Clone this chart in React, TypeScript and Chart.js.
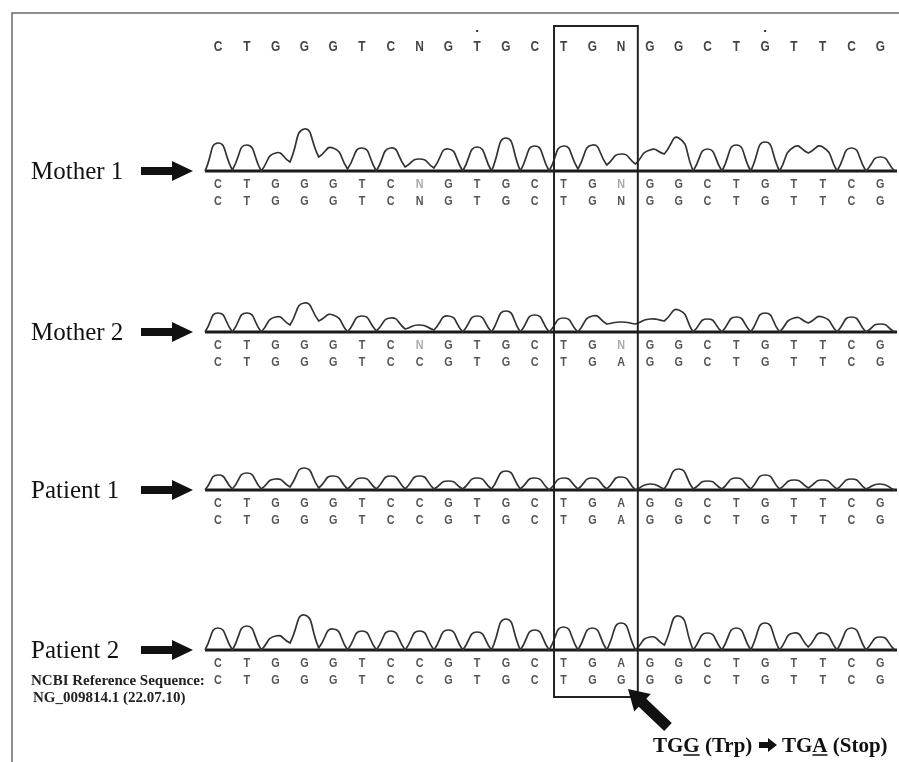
import { useEffect, useRef } from "react";
import { Chart, registerables } from "chart.js";

Chart.register(...registerables);

// ---------------- DATA ----------------
const TOP_SEQUENCE = "CTGGGTCNGTGCTGNGGCTGTTCG".split("");

const MOTHER1_CALL = "CTGGGTCNGTGCTGNGGCTGTTCG".split("");
const MOTHER1_REF = "CTGGGTCNGTGCTGNGGCTGTTCG".split("");
const MOTHER2_CALL = "CTGGGTCNGTGCTGNGGCTGTTCG".split("");
const MOTHER2_REF = "CTGGGTCCGTGCTGAGGCTGTTCG".split("");
const PATIENT1_CALL = "CTGGGTCCGTGCTGAGGCTGTTCG".split("");
const PATIENT1_REF = "CTGGGTCCGTGCTGAGGCTGTTCG".split("");
const PATIENT2_CALL = "CTGGGTCCGTGCTGAGGCTGTTCG".split("");
const NCBI_REF = "CTGGGTCCGTGCTGGGGCTGTTCG".split("");

// peak heights at each base, and trough heights before/between/after bases
const MOTHER1_PEAKS = [28, 26, 18, 42, 23, 23, 23, 12, 22, 24, 33, 25, 25, 26, 17, 21, 33, 22, 26, 29, 24, 24, 23, 14];
const MOTHER1_VALLEYS = [0, 1, 0, 9, 14, 2, 0, 4, 3, 0, 0, 0, 0, 2, 6, 7, 17, 0, 0, 0, 0, 18, 0, 0, 0];
const MOTHER2_PEAKS = [19, 19, 15, 29, 17, 16, 14, 7, 16, 16, 21, 17, 14, 16, 10, 13, 22, 13, 15, 19, 14, 15, 15, 8];
const MOTHER2_VALLEYS = [0, 0, 0, 7, 11, 0, 1, 3, 2, 0, 0, 0, 0, 0, 8, 8, 11, 0, 0, 0, 0, 9, 0, 0, 0];
const PATIENT1_PEAKS = [15, 17, 11, 22, 14, 12, 14, 14, 9, 12, 19, 12, 12, 12, 13, 6, 21, 9, 12, 15, 10, 10, 11, 6];
const PATIENT1_VALLEYS = [0, 1, 1, 3, 2, 1, 1, 1, 1, 1, 1, 1, 0, 1, 1, 0, 1, 1, 1, 1, 1, 2, 1, 1, 0];
const PATIENT2_PEAKS = [22, 24, 14, 35, 21, 19, 19, 19, 20, 18, 31, 20, 23, 22, 27, 13, 34, 17, 22, 27, 17, 17, 22, 13];
const PATIENT2_VALLEYS = [0, 0, 0, 7, 2, 0, 0, 0, 0, 0, 0, 0, 0, 0, 0, 0, 5, 0, 0, 0, 0, 3, 0, 0, 0];

const ROW_LABELS = ["Mother 1", "Mother 2", "Patient 1", "Patient 2"];
const NCBI_LABEL = ["NCBI Reference Sequence:", "NG_009814.1 (22.07.10)"];
const MUTATION_LEFT = "TGG (Trp)";
const MUTATION_RIGHT = "TGA (Stop)";

// ---------------- LAYOUT ----------------
const W = 899;
const H = 762;
const X_MIN = -7.57; // base-index at left canvas edge
const X_MAX = 23.65; // base-index at right canvas edge
const TRACE_START = -0.45;
const TRACE_END = 23.58;
const ROW_BASELINE_PX = [171, 332, 490, 650];
const BOX_FROM = 11.67;
const BOX_TO = 14.58;
const BOX_TOP = 26;
const BOX_BOTTOM = 697;
const TOP_ROW_Y = 46;
const CALL_DY = 12.5;
const REF_DY = 29.5;
const DOT_BASES = [9, 19];

const ROWS = [
  { peaks: MOTHER1_PEAKS, valleys: MOTHER1_VALLEYS, call: MOTHER1_CALL, ref: MOTHER1_REF },
  { peaks: MOTHER2_PEAKS, valleys: MOTHER2_VALLEYS, call: MOTHER2_CALL, ref: MOTHER2_REF },
  { peaks: PATIENT1_PEAKS, valleys: PATIENT1_VALLEYS, call: PATIENT1_CALL, ref: PATIENT1_REF },
  { peaks: PATIENT2_PEAKS, valleys: PATIENT2_VALLEYS, call: PATIENT2_CALL, ref: NCBI_REF },
];

function tracePoints(peaks: number[], valleys: number[]) {
  const pts: { x: number; y: number }[] = [];
  const n = peaks.length;
  for (let k = 0; k <= n; k++) {
    const vx = Math.min(Math.max(k - 0.5, TRACE_START), TRACE_END);
    if (k > 0) pts.push({ x: vx, y: valleys[k] });
    if (k < n) {
      pts.push({ x: vx, y: valleys[k] });
      pts.push({ x: k, y: peaks[k] });
    }
  }
  return pts;
}

function letter(ctx: CanvasRenderingContext2D, ch: string, x: number, yc: number, size: number, bold: boolean, color: string, sx: number) {
  ctx.save();
  ctx.translate(x, yc + size * 0.716 / 2);
  ctx.scale(sx, 1);
  ctx.font = `${bold ? "bold " : ""}${size}px 'Liberation Sans', Arial, sans-serif`;
  ctx.fillStyle = color;
  ctx.textAlign = "center";
  ctx.textBaseline = "alphabetic";
  ctx.fillText(ch, 0, 0);
  ctx.restore();
}

function blockArrow(ctx: CanvasRenderingContext2D, x0: number, x1: number, yc: number, shaftH: number, headH: number, headL: number) {
  ctx.beginPath();
  ctx.moveTo(x0, yc - shaftH);
  ctx.lineTo(x1 - headL, yc - shaftH);
  ctx.lineTo(x1 - headL, yc - headH);
  ctx.lineTo(x1, yc);
  ctx.lineTo(x1 - headL, yc + headH);
  ctx.lineTo(x1 - headL, yc + shaftH);
  ctx.lineTo(x0, yc + shaftH);
  ctx.closePath();
  ctx.fill();
}

const annotPlugin = {
  id: "annot",
  afterDraw(chart: any) {
    const ctx: CanvasRenderingContext2D = chart.ctx;
    const xs = chart.scales.x;
    const px = (v: number) => xs.getPixelForValue(v);
    ctx.save();

    // frame
    ctx.strokeStyle = "#6a6a6a";
    ctx.lineWidth = 1.5;
    ctx.beginPath();
    ctx.moveTo(12, H);
    ctx.lineTo(12, 13);
    ctx.lineTo(W, 13);
    ctx.stroke();

    // top sequence
    TOP_SEQUENCE.forEach((ch, i) => letter(ctx, ch, px(i), TOP_ROW_Y, 14, true, "#444", 0.85));
    ctx.fillStyle = "#333";
    DOT_BASES.forEach((i) => {
      ctx.fillRect(px(i) - 1, TOP_ROW_Y - 16, 2, 2);
    });

    // rows
    ROWS.forEach((row, r) => {
      const base = chart.scales["y" + r].getPixelForValue(0);
      row.call.forEach((ch, i) => letter(ctx, ch, px(i), base + CALL_DY, 12, true, ch === "N" ? "#aaa" : "#555", 0.9));
      row.ref.forEach((ch, i) => letter(ctx, ch, px(i), base + REF_DY, 12, true, "#555", 0.9));

      ctx.fillStyle = "#111";
      ctx.font = "25px 'Liberation Serif', 'Times New Roman', serif";
      ctx.textAlign = "left";
      ctx.textBaseline = "alphabetic";
      ctx.fillText(ROW_LABELS[r], 31, base + 8);
      ctx.fillStyle = "#111";
      blockArrow(ctx, 141, 193, base, 4, 10, 21);
    });

    // NCBI label
    const b3 = chart.scales.y3.getPixelForValue(0);
    ctx.fillStyle = "#222";
    ctx.font = "bold 15px 'Liberation Serif', 'Times New Roman', serif";
    ctx.textAlign = "left";
    ctx.fillText(NCBI_LABEL[0], 31, b3 + REF_DY + 5);
    ctx.fillText(NCBI_LABEL[1], 33, b3 + REF_DY + 22);

    // highlight box
    ctx.strokeStyle = "#222";
    ctx.lineWidth = 2;
    ctx.strokeRect(px(BOX_FROM), BOX_TOP, px(BOX_TO) - px(BOX_FROM), BOX_BOTTOM - BOX_TOP);

    // diagonal arrow pointing at box corner
    {
      const tip = { x: 628, y: 689 };
      const tail = { x: 668, y: 727 };
      const dx = tip.x - tail.x, dy = tip.y - tail.y;
      const len = Math.hypot(dx, dy);
      const ux = dx / len, uy = dy / len;
      const nx = -uy, ny = ux;
      const headL = 20, sh = 5.5, hh = 12;
      const hb = { x: tip.x - ux * headL, y: tip.y - uy * headL };
      ctx.fillStyle = "#111";
      ctx.beginPath();
      ctx.moveTo(tail.x + nx * sh, tail.y + ny * sh);
      ctx.lineTo(hb.x + nx * sh, hb.y + ny * sh);
      ctx.lineTo(hb.x + nx * hh, hb.y + ny * hh);
      ctx.lineTo(tip.x, tip.y);
      ctx.lineTo(hb.x - nx * hh, hb.y - ny * hh);
      ctx.lineTo(hb.x - nx * sh, hb.y - ny * sh);
      ctx.lineTo(tail.x - nx * sh, tail.y - ny * sh);
      ctx.closePath();
      ctx.fill();
    }

    // mutation caption
    {
      ctx.fillStyle = "#111";
      ctx.strokeStyle = "#111";
      ctx.font = "bold 21px 'Liberation Serif', 'Times New Roman', serif";
      ctx.textAlign = "left";
      const yb = 752;
      const x0 = 653;
      ctx.fillText(MUTATION_LEFT, x0, yb);
      const a = ctx.measureText(MUTATION_LEFT.slice(0, 2)).width;
      const b = ctx.measureText(MUTATION_LEFT.slice(0, 3)).width;
      ctx.lineWidth = 1.5;
      ctx.beginPath();
      ctx.moveTo(x0 + a, yb + 3);
      ctx.lineTo(x0 + b, yb + 3);
      ctx.stroke();
      blockArrow(ctx, 759, 777, 745, 3, 7, 9);
      const x1 = 782;
      ctx.fillText(MUTATION_RIGHT, x1, yb);
      const c = ctx.measureText(MUTATION_RIGHT.slice(0, 2)).width;
      const d = ctx.measureText(MUTATION_RIGHT.slice(0, 3)).width;
      ctx.beginPath();
      ctx.moveTo(x1 + c, yb + 3);
      ctx.lineTo(x1 + d, yb + 3);
      ctx.stroke();
    }

    ctx.restore();
  },
};

export default function App() {
  const ref = useRef<HTMLCanvasElement>(null);
  useEffect(() => {
    const canvas = ref.current;
    if (!canvas) return;
    const datasets: any[] = [];
    const scales: any = {
      x: { type: "linear", min: X_MIN, max: X_MAX, display: false },
    };
    ROWS.forEach((row, r) => {
      const id = "y" + r;
      scales[id] = {
        type: "linear",
        axis: "y",
        display: false,
        min: ROW_BASELINE_PX[r] - H,
        max: ROW_BASELINE_PX[r],
      };
      datasets.push({
        label: ROW_LABELS[r],
        data: tracePoints(row.peaks, row.valleys),
        yAxisID: id,
        borderColor: "#333",
        borderWidth: 1.7,
        tension: 0.6,
        pointRadius: 0,
        fill: false,
      });
      datasets.push({
        label: ROW_LABELS[r] + " baseline",
        data: [
          { x: TRACE_START, y: 0 },
          { x: TRACE_END, y: 0 },
        ],
        yAxisID: id,
        borderColor: "#1a1a1a",
        borderWidth: 3,
        tension: 0,
        pointRadius: 0,
        fill: false,
      });
    });
    const chart = new Chart(canvas, {
      type: "line",
      data: { datasets },
      options: {
        animation: false,
        responsive: false,
        devicePixelRatio: 1,
        layout: { padding: 0 },
        scales,
        plugins: { legend: { display: false }, tooltip: { enabled: false } },
        events: [],
      } as any,
      plugins: [annotPlugin],
    });
    return () => chart.destroy();
  }, []);
  return (
    <div style={{ position: "absolute", left: 0, top: 0, width: W, height: H, background: "#fff" }}>
      <canvas ref={ref} width={W} height={H} style={{ display: "block" }} />
    </div>
  );
}
